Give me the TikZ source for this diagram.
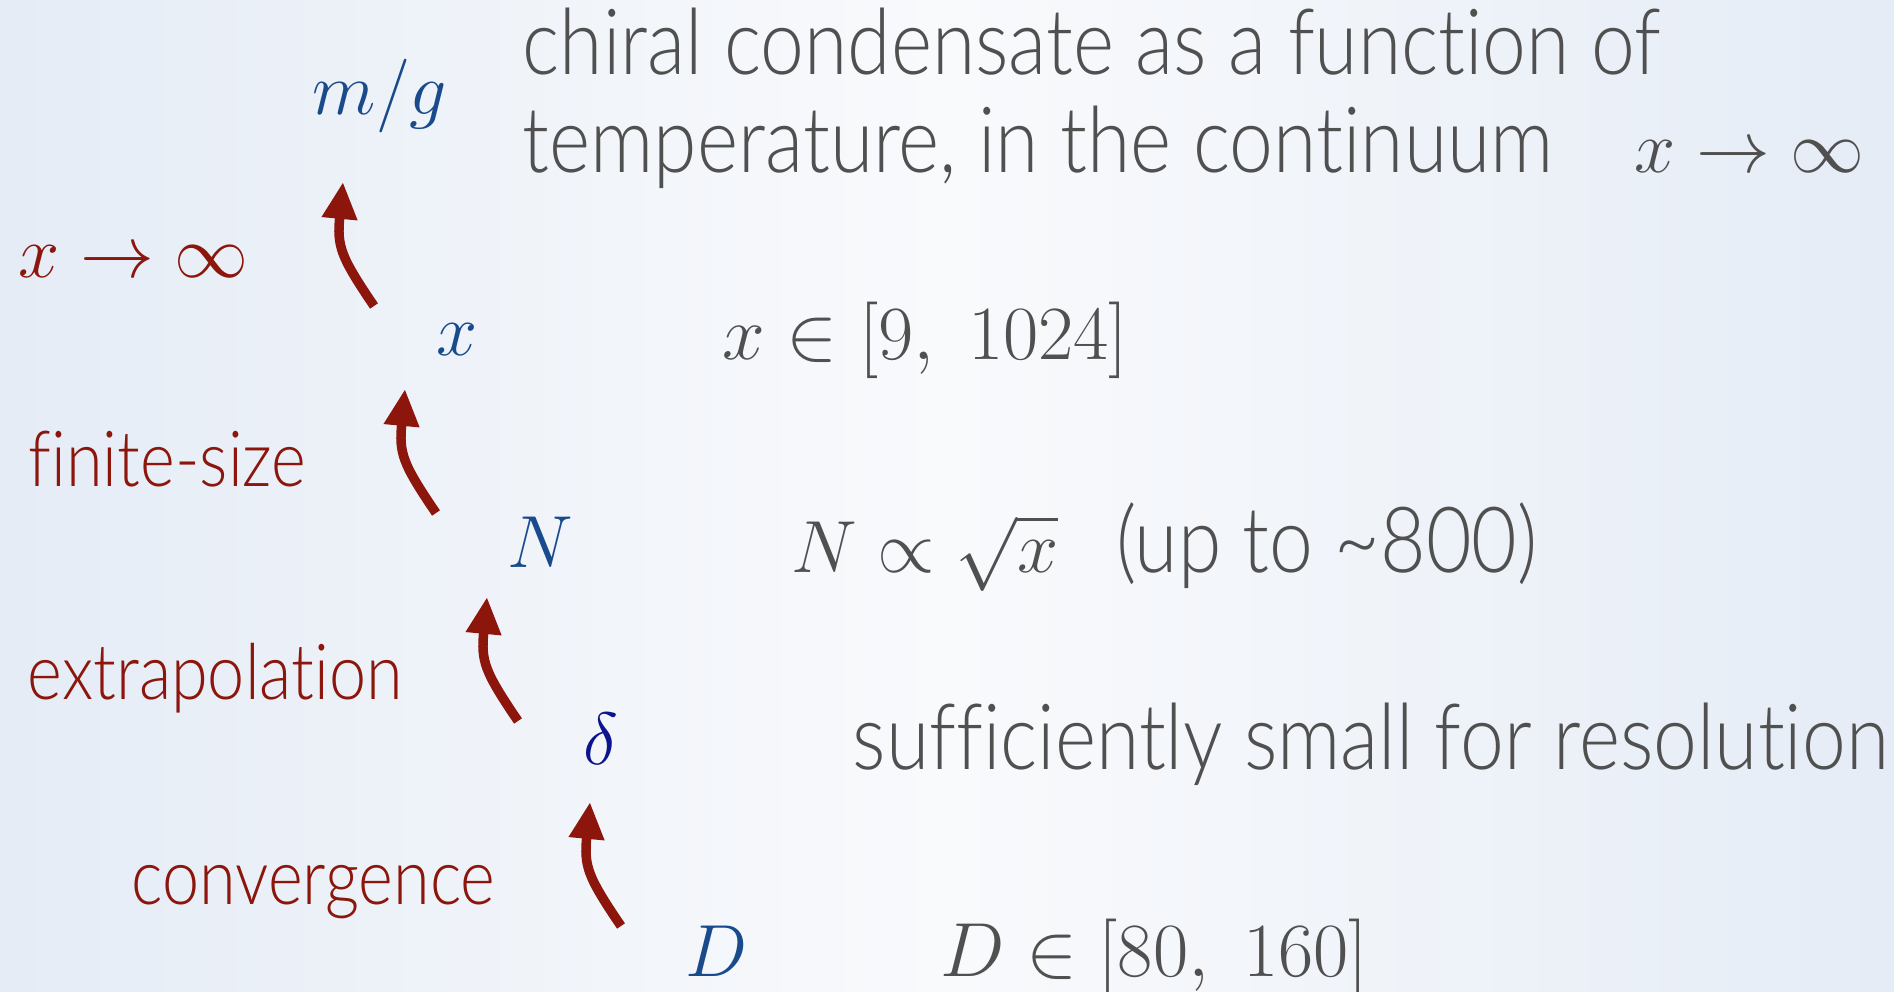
\RequirePackage{fix-cm}
\documentclass[tikz,border=0pt]{standalone}
\usepackage{fontspec}
\setmainfont{Lato Light}[FakeStretch=0.86,Ligatures=NoCommon]
\usetikzlibrary{arrows.meta,positioning,calc}
\definecolor{slate}{RGB}{25,75,140}
\definecolor{deepblue}{RGB}{10,20,140}
\definecolor{rust}{RGB}{140,22,12}
\definecolor{graytext}{RGB}{80,80,80}
\definecolor{bgedge}{RGB}{229,236,246}
\definecolor{bgmid}{RGB}{249,250,252}
\tikzset{
  >={Triangle[length=10.5pt,width=9.5pt]},
  var/.style={text=#1,font=\fontsize{21}{25}\selectfont,inner sep=0pt,anchor=base},
  var/.default=slate,
  lbl/.style={text=rust,font=\fontsize{22}{26}\selectfont,inner sep=0pt,anchor=base west},
  note/.style={text=graytext,font=\fontsize{26}{30}\selectfont,inner sep=0pt,anchor=base west},
  notemath/.style={note,font=\fontsize{21.8}{26}\selectfont},
  flow/.style={->,line width=2.7pt,draw=rust},
}

\begin{document}
\begin{tikzpicture}[x=0.01cm,y=-0.01cm]
  \useasboundingbox (0,0) rectangle (1894,992);
  % backdrop
  \shade[left color=bgedge,right color=bgedge,middle color=bgmid] (0,0) rectangle (1894,992);

  % chain of parameters
  \node[var] (mg) at (380,115) {$m/g$};
  \node[var] (xv) at (457,356) {$x$};
  \node[var] (nv) at (540,568) {$N$};
  \node[var=deepblue] (dl) at (601,765) {$\delta$};
  \node[var] (dv) at (717,976) {$D$};

  % what each step is
  \node[lbl,font=\fontsize{21}{25}\selectfont] (lim) at (18,278) {$x\to\infty$};
  \node[lbl] (fs) at (28,487) {finite-size};
  \node[lbl] (ex) at (27,700) {extrapolation};
  \node[lbl] (cv) at (131,905) {convergence};

  % remarks on the right
  \node[note] (t1) at (522,75) {chiral condensate as a function of};
  \node[note] (t2) at (522,173) {temperature, in the continuum};
  \node[notemath,font=\fontsize{21}{25}\selectfont] (tl) at (1634,173) {$x\to\infty$};
  \node[notemath] (rx) at (722,360) {$x\in[9,\;1024]$};
  \node[note] (rn) at (791,573) {{\fontsize{21}{25}\selectfont$N\propto\sqrt{x}$}\ \ \,(up to \textasciitilde800)};
  \node[note] (rd) at (852,770) {sufficiently small for resolution};
  \node[notemath] (rD) at (940,976) {$D\in[80,\;160]$};

  \draw[flow] ([shift={(-83,-50)}]xv.base) .. controls +(-34,-50) and +(-6,64) .. ([shift={(-37,67)}]mg.base);
  \draw[flow] ([shift={(-104,-55)}]nv.base) .. controls +(-34,-50) and +(-6,64) .. ([shift={(-52,33)}]xv.base);
  \draw[flow] ([shift={(-83,-44)}]dl.base) .. controls +(-34,-50) and +(-6,64) .. ([shift={(-53,29)}]nv.base);
  \draw[flow] ([shift={(-96,-50)}]dv.base) .. controls +(-34,-50) and +(-6,64) .. ([shift={(-11,37)}]dl.base);
\end{tikzpicture}
\end{document}
